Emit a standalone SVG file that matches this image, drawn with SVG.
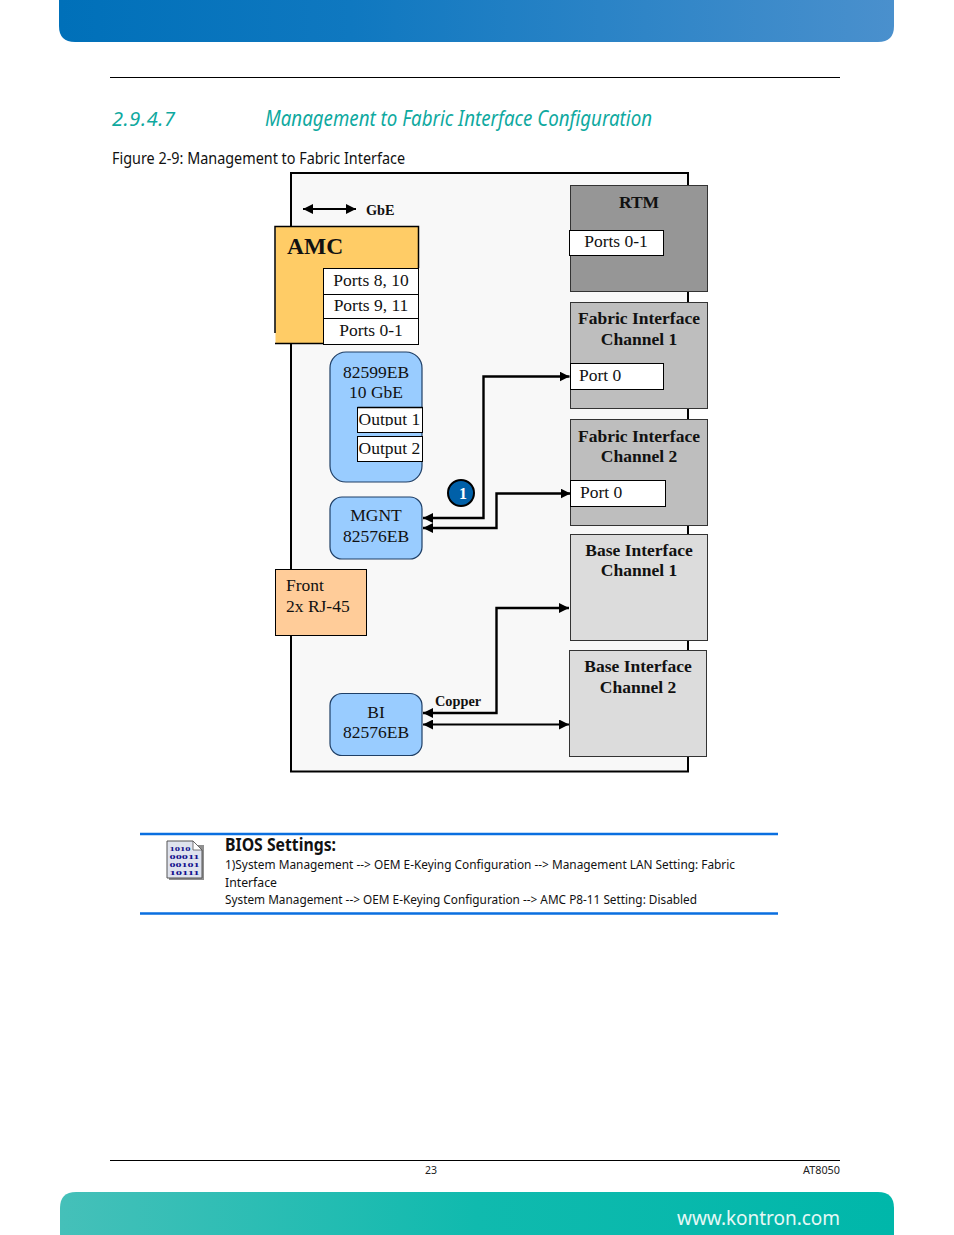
<svg xmlns="http://www.w3.org/2000/svg" width="954" height="1235" viewBox="0 0 954 1235">
<style>
.s{font-family:"Liberation Serif","Times New Roman",serif;fill:#111}
.r{font-size:17.5px;text-anchor:middle}
.b{font-size:17.5px;font-weight:bold;text-anchor:middle}
.h{font-family:"Noto Sans","Open Sans",sans-serif}
.t{font-size:21px;font-style:italic;fill:#0fa99f}
.c{font-size:12.5px;fill:#111}
.w{fill:#fff;stroke:#000;stroke-width:1}
.blue{fill:#99ccff;stroke:#1f3f66;stroke-width:1.2}
.ln{fill:none;stroke:#000;stroke-width:2.4}
</style>
<defs>
<linearGradient id="gt" x1="0" x2="1" y1="0" y2="0"><stop offset="0" stop-color="#0070b9"/><stop offset="0.35" stop-color="#0f78c0"/><stop offset="1" stop-color="#4a90cd"/></linearGradient>
<linearGradient id="gb" x1="0" x2="1" y1="0" y2="0"><stop offset="0" stop-color="#45c0b9"/><stop offset="0.5" stop-color="#10baae"/><stop offset="1" stop-color="#00b7aa"/></linearGradient>
<marker id="a" viewBox="0 0 10 10" refX="10" refY="5" markerWidth="10" markerHeight="10" markerUnits="userSpaceOnUse" orient="auto-start-reverse"><path d="M0 0L10 5L0 10Z" fill="#000"/></marker>
</defs>
<g id="page">
<path d="M59 0H894V26Q894 42 878 42H75Q59 42 59 26Z" fill="url(#gt)"/>
<path d="M60 1235V1208Q60 1192 76 1192H878Q894 1192 894 1208V1235Z" fill="url(#gb)"/>
<path d="M110 77.500H840M110 1160.500H840" stroke="#000" stroke-width="1"/>
<text class="h t" x="112" y="126" font-size="20" textLength="63" lengthAdjust="spacing" style="font-size:20px">2.9.4.7</text>
<text class="h t" x="265" y="126" textLength="387" lengthAdjust="spacingAndGlyphs">Management to Fabric Interface Configuration</text>
<text class="h" x="112" y="164" font-size="16" fill="#111" textLength="293" lengthAdjust="spacingAndGlyphs">Figure 2-9: Management to Fabric Interface</text>
<text class="h" x="431" y="1174" font-size="10.500" fill="#222" text-anchor="middle">23</text>
<text class="h" x="803" y="1174" font-size="10.500" fill="#222" textLength="37" lengthAdjust="spacingAndGlyphs">AT8050</text>
<text class="h" x="677" y="1225" font-size="19" fill="#e6f8f6" textLength="163" lengthAdjust="spacing">www.kontron.com</text>
</g>
<g id="frame"><rect x="291" y="173" width="397" height="598.500" fill="#f8f8f8" stroke="#000" stroke-width="2"/></g>
<g id="legend">
<path d="M303 209H356" stroke="#000" stroke-width="2" marker-start="url(#a)" marker-end="url(#a)"/>
<text class="s" x="366" y="215" font-size="14.300" font-weight="bold">GbE</text>
</g>
<g id="amc">
<rect x="275.500" y="226.500" width="143" height="117" fill="#ffcc66"/>
<path d="M275 333V226.500H418.500V268M275 343.500H324" fill="none" stroke="#000" stroke-width="1.500"/>
<text class="s" x="287" y="254" font-size="23.500" font-weight="bold">AMC</text>
<rect class="w" x="323.500" y="268.500" width="95" height="26"/>
<rect class="w" x="323.500" y="294.500" width="95" height="24"/>
<rect class="w" x="323.500" y="318.500" width="95" height="26"/>
<text class="s r" x="371" y="286">Ports 8, 10</text>
<text class="s r" x="371" y="311">Ports 9, 11</text>
<text class="s r" x="371" y="336">Ports 0-1</text>
</g>
<g id="nic82599">
<rect class="blue" x="330" y="352" width="92" height="130" rx="16"/>
<text class="s r" x="376" y="378">82599EB</text>
<text class="s r" x="376" y="398">10 GbE</text>
<rect x="357.500" y="407.500" width="65" height="25" fill="#fff" stroke="#000"/>
<path d="M357.500 407.500H422.500" stroke="#000" stroke-width="1.500"/>
<rect x="357.500" y="436.500" width="65" height="25" fill="#fff" stroke="#000"/>
<text class="s" x="358.500" y="425" font-size="17.500">Output 1</text>
<rect x="358" y="426" width="64" height="6" fill="#fff"/>
<text class="s" x="358.500" y="454" font-size="17.500">Output 2</text>
</g>
<g id="mgnt">
<rect class="blue" x="330" y="497" width="92" height="62" rx="12"/>
<text class="s r" x="376" y="521">MGNT</text>
<text class="s r" x="376" y="542">82576EB</text>
</g>
<g id="bi">
<rect class="blue" x="330" y="693.500" width="92" height="62" rx="12"/>
<text class="s r" x="376" y="718">BI</text>
<text class="s r" x="376" y="738">82576EB</text>
</g>
<g id="front">
<rect x="275.500" y="569.500" width="91" height="66" fill="#ffcc99" stroke="#000"/>
<text class="s" x="286" y="591" font-size="17.500">Front</text>
<text class="s" x="286" y="612" font-size="17.500">2x RJ-45</text>
</g>
<g id="rtm">
<rect x="570.500" y="185.500" width="137" height="106" fill="#969696" stroke="#333"/>
<text class="s b" x="639" y="207.500">RTM</text>
<rect class="w" x="569.500" y="230.500" width="94" height="25"/>
<text class="s r" x="616" y="247">Ports 0-1</text>
</g>
<g id="fabric1">
<rect x="570.500" y="302.500" width="137" height="106" fill="#bebebe" stroke="#333"/>
<text class="s b" x="639" y="324">Fabric Interface</text>
<text class="s b" x="639" y="345">Channel 1</text>
<rect class="w" x="570.500" y="363.500" width="93" height="26"/>
<text class="s" x="579" y="381" font-size="17.500">Port 0</text>
</g>
<g id="fabric2">
<rect x="570.500" y="419.500" width="137" height="106" fill="#bebebe" stroke="#333"/>
<text class="s b" x="639" y="442">Fabric Interface</text>
<text class="s b" x="639" y="462">Channel 2</text>
<rect class="w" x="570.500" y="480.500" width="95" height="26"/>
<text class="s" x="580" y="498" font-size="17.500">Port 0</text>
</g>
<g id="base1">
<rect x="570.500" y="534.500" width="137" height="106" fill="#dcdcdc" stroke="#333"/>
<text class="s b" x="639" y="556">Base Interface</text>
<text class="s b" x="639" y="576">Channel 1</text>
</g>
<g id="base2">
<rect x="569.500" y="650.500" width="137" height="106" fill="#dcdcdc" stroke="#333"/>
<text class="s b" x="638" y="672">Base Interface</text>
<text class="s b" x="638" y="693">Channel 2</text>
</g>
<g id="connectors">
<path class="ln" d="M569.500 376.500H483.500V518H423" marker-start="url(#a)" marker-end="url(#a)"/>
<path class="ln" d="M570.500 493.500H496.500V528H423" marker-start="url(#a)" marker-end="url(#a)"/>
<path class="ln" d="M569 608H496.500V713H423" marker-start="url(#a)" marker-end="url(#a)"/>
<path d="M423 724.500H569" fill="none" stroke="#000" stroke-width="2" marker-start="url(#a)" marker-end="url(#a)"/>
<text class="s" x="435" y="706" font-size="14.300" font-weight="bold">Copper</text>
</g>
<g id="badge">
<circle cx="461" cy="493" r="13" fill="#0060a8" stroke="#000" stroke-width="2"/>
<text x="463" y="499" font-family="Liberation Serif,serif" font-size="16" font-weight="bold" fill="#fff" text-anchor="middle">1</text>
</g>
<g id="note">
<path d="M140 834H778M140 913.500H778" stroke="#0a6fe0" stroke-width="2.500" fill="none"/>
<path d="M169 845H204V880H169Z" fill="#8f8f8f"/>
<path d="M167 841H193L202 850V878H167Z" fill="#dfe3ee" stroke="#555" stroke-width="1"/>
<path d="M193 841V850H202Z" fill="#fff" stroke="#555" stroke-width="0.800"/>
<g font-family="Liberation Serif,serif" font-size="7" font-weight="bold" fill="#11118c">
<text x="169.500" y="850.500" textLength="21" lengthAdjust="spacingAndGlyphs">1010</text><text x="169.500" y="858.500" textLength="30" lengthAdjust="spacingAndGlyphs">00011</text><text x="169.500" y="866.500" textLength="30" lengthAdjust="spacingAndGlyphs">00101</text><text x="169.500" y="874.500" textLength="30" lengthAdjust="spacingAndGlyphs">10111</text>
</g>
<text class="h" x="225" y="851" font-size="17" font-weight="bold" fill="#111" textLength="111" lengthAdjust="spacingAndGlyphs">BIOS Settings:</text>
<text class="h c" x="225" y="869" textLength="510" lengthAdjust="spacingAndGlyphs">1)System Management --&gt; OEM E-Keying Configuration --&gt; Management LAN Setting: Fabric</text>
<text class="h c" x="225" y="887" textLength="52" lengthAdjust="spacingAndGlyphs">Interface</text>
<text class="h c" x="225" y="904" textLength="472" lengthAdjust="spacingAndGlyphs">System Management --&gt; OEM E-Keying Configuration --&gt; AMC P8-11 Setting: Disabled</text>
</g>
</svg>
